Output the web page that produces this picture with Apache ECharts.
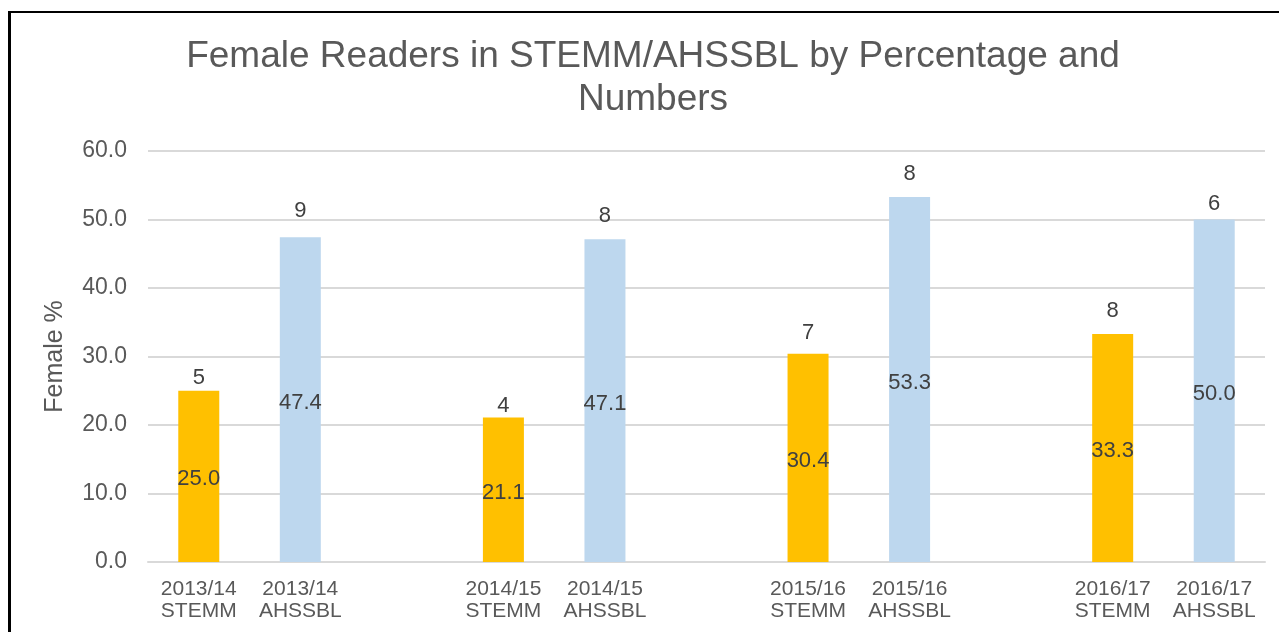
<!DOCTYPE html>
<html>
<head>
<meta charset="utf-8">
<script src="https://cdn.jsdelivr.net/npm/echarts@6/dist/echarts.min.js"></script>
<style>
  html, body { margin: 0; padding: 0; background: #fff; overflow: hidden; }
  #frame { position: absolute; left: 8px; top: 11px; width: 1400px; height: 800px;
           border-left: 3px solid #000; border-top: 2px solid #000; pointer-events: none; }
  #chart { position: absolute; left: 0; top: 0; width: 1279px; height: 632px; }
</style>
</head>
<body>
<div id="chart"></div>
<div id="frame"></div>
<script>
// categories, with blank slots between the years
const categories = [
  "2013/14\nSTEMM", "2013/14\nAHSSBL", "",
  "2014/15\nSTEMM", "2014/15\nAHSSBL", "",
  "2015/16\nSTEMM", "2015/16\nAHSSBL", "",
  "2016/17\nSTEMM", "2016/17\nAHSSBL"
];
// female % per category (null = gap)
const femalePct = [25.0, 47.4, null, 21.1, 47.1, null, 30.4, 53.3, null, 33.3, 50.0];
// number of female readers
const femaleCount = [5, 9, null, 4, 8, null, 7, 8, null, 8, 6];
// STEMM or AHSSBL group of each slot
const group = ["S", "A", null, "S", "A", null, "S", "A", null, "S", "A"];

// styling: colours and the (hand placed) gap of the count labels above the bars
const colors = { S: "#FFC000", A: "#BDD7EE" };
const countLabelGap = [2, 15, 0, 1, 12, 0, 10, 12, 0, 12, 5];
const font = "Liberation Sans, Arial, sans-serif";

var chart = echarts.init(document.getElementById("chart"));
chart.setOption({
  animation: false,
  title: {
    text: "Female Readers in STEMM/AHSSBL by Percentage and\nNumbers",
    left: 648,
    top: 30,
    textAlign: "center",
    textStyle: { fontFamily: font, fontSize: 37, fontWeight: "normal", color: "#595959", lineHeight: 43 }
  },
  grid: { left: 148, right: 14, top: 151, bottom: 70, containLabel: false },
  xAxis: {
    type: "category",
    data: categories,
    axisLine: { lineStyle: { color: "#D9D9D9", width: 2 } },
    axisTick: { show: false },
    axisLabel: { interval: 0, fontFamily: font, fontSize: 21, color: "#595959", lineHeight: 22, margin: 16 }
  },
  yAxis: {
    type: "value",
    min: 0,
    max: 60,
    interval: 10,
    name: "Female %",
    nameLocation: "middle",
    nameGap: 80,
    nameTextStyle: { fontFamily: font, fontSize: 25, color: "#595959" },
    axisLine: { show: false },
    axisTick: { show: false },
    splitLine: { lineStyle: { color: "#D9D9D9", width: 2 } },
    axisLabel: {
      fontFamily: font, fontSize: 23, color: "#595959", margin: 21,
      formatter: (v) => v.toFixed(1)
    }
  },
  series: [
    {
      type: "bar",
      barWidth: 41,
      data: femalePct.map((v, i) => ({ value: v, itemStyle: { color: colors[group[i]] || "transparent" } })),
      label: {
        show: true,
        position: "inside",
        offset: [0, 3],
        fontFamily: font,
        fontSize: 22,
        color: "#404040",
        formatter: (p) => (p.value == null ? "" : p.value.toFixed(1))
      }
    },
    {
      type: "bar",
      barWidth: 41,
      barGap: "-100%",
      silent: true,
      itemStyle: { color: "transparent" },
      data: femalePct.map((v, i) => ({ value: v, label: { distance: countLabelGap[i] } })),
      label: {
        show: true,
        position: "top",
        fontFamily: font,
        fontSize: 22,
        color: "#404040",
        formatter: (p) => (femaleCount[p.dataIndex] == null ? "" : String(femaleCount[p.dataIndex]))
      }
    }
  ]
});
</script>
</body>
</html>
